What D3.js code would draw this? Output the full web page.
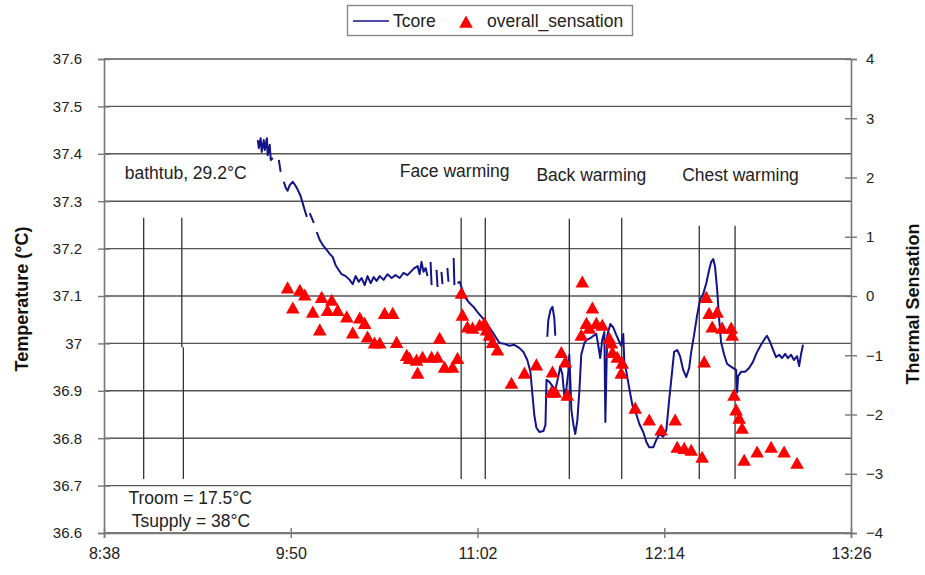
<!DOCTYPE html>
<html><head><meta charset="utf-8">
<script src="https://cdn.jsdelivr.net/npm/d3@7"></script>
<style>
html,body{margin:0;padding:0;background:#fff;}
svg{display:block;font-family:"Liberation Sans",Arial,sans-serif;}
</style></head>
<body><svg id="chart" width="925" height="575"></svg>
<script>
// ---- data ----
const timeTicks = [518, 590, 662, 734, 806];              // minutes after midnight
const timeTickLabels = ["8:38", "9:50", "11:02", "12:14", "13:26"];
const tempTicks = [36.6, 36.7, 36.8, 36.9, 37.0, 37.1, 37.2, 37.3, 37.4, 37.5, 37.6];
const tempTickLabels = ["36.6", "36.7", "36.8", "36.9", "37", "37.1", "37.2", "37.3", "37.4", "37.5", "37.6"];
const sensTicks = [-4, -3, -2, -1, 0, 1, 2, 3, 4];
const seriesNames = ["Tcore", "overall_sensation"];

// Tcore: [time (min), temperature], null = gap in the record
const tcore = [
[577.3,37.429],[577.7,37.412],[578.4,37.433],[578.8,37.404],[579.6,37.429],[580.0,37.408],[580.8,37.433],[581.1,37.397],[581.9,37.419],[582.3,37.387],[583.1,37.391],null,
[585.4,37.387],[586.1,37.362],null,
[587.3,37.341],[588.1,37.328],[588.8,37.322],[589.6,37.334],[590.8,37.341],[591.9,37.332],[592.7,37.324],[593.8,37.311],[594.6,37.296],[595.4,37.281],[596.2,37.267],null,
[597.3,37.275],[598.1,37.265],[598.9,37.254],null,
[600.0,37.235],[601.2,37.218],[602.3,37.208],[603.9,37.197],[605.0,37.189],[606.2,37.182],[607.3,37.165],[608.5,37.155],[609.6,37.146],[611.2,37.142],[612.7,37.134],[613.9,37.125],[615.0,37.142],[616.2,37.130],[617.3,37.138],[618.5,37.123],[619.6,37.142],[620.8,37.127],[622.0,37.140],[623.1,37.132],[624.3,37.142],[625.8,37.134],[627.3,37.146],[628.9,37.138],[630.4,37.144],[632.0,37.138],[633.5,37.149],[635.0,37.144],[636.6,37.153],[637.7,37.159],[638.9,37.163],[639.7,37.146],[640.4,37.172],[641.2,37.151],[642.0,37.159],[642.7,37.142],null,
[643.9,37.172],[644.3,37.123],null,
[646.2,37.155],[646.6,37.119],null,
[648.1,37.151],[648.5,37.125],null,
[650.4,37.159],[650.8,37.130],null,
[652.8,37.180],[653.1,37.123],null,
[654.3,37.127],[655.1,37.130],[656.2,37.113],[657.4,37.096],[658.9,37.085],[660.5,37.077],[662.0,37.066],[663.9,37.054],[665.8,37.039],[667.8,37.024],[669.3,37.011],[670.5,37.001],[672.4,36.999],[674.3,36.995],[676.2,36.997],[678.2,36.990],[679.7,36.982],[681.2,36.965],[682.4,36.940],[683.2,36.891],[683.9,36.849],[684.7,36.822],[685.9,36.813],[687.4,36.815],[688.2,36.828],[688.6,36.923],[689.7,36.919],[690.9,36.910],[692.0,36.902],[693.2,36.931],[693.9,36.952],[694.7,36.935],[695.5,36.889],[696.3,36.906],[697.0,36.940],[697.4,36.976],[697.8,36.919],[698.2,36.859],[699.0,36.828],[699.7,36.809],[700.5,36.838],[701.3,36.902],[702.0,36.976],[703.2,37.001],[704.3,37.008],[705.5,37.011],[706.7,37.016],[707.8,37.020],[708.6,36.995],[709.3,36.969],[710.1,37.008],[710.9,37.024],[711.3,36.834],[712.0,37.016],[713.2,37.041],[714.4,37.033],[715.5,37.018],[716.7,37.003],[717.4,36.995],[718.2,37.020],[718.6,36.961],[719.4,36.940],[720.5,36.906],[721.7,36.870],[723.2,36.851],[724.4,36.830],[725.9,36.813],[727.1,36.792],[728.2,36.781],[729.8,36.781],[730.9,36.796],[732.1,36.809],[733.6,36.803],[734.8,36.817],[735.9,36.881],[737.1,36.944],[737.8,36.982],[739.0,36.986],[740.1,36.973],[741.3,36.944],[742.5,36.929],[743.6,36.948],[744.4,36.982],[745.5,37.018],[746.7,37.060],[747.8,37.092],[749.0,37.104],[750.2,37.127],[751.3,37.155],[752.1,37.172],[752.9,37.178],[753.6,37.161],[754.4,37.113],[755.2,37.049],[755.9,37.003],[757.1,36.976],[758.2,36.957],[759.4,36.952],[760.6,36.948],[761.7,36.944],[762.1,36.897],[762.5,36.931],[763.6,36.940],[765.2,36.940],[766.7,36.948],[768.2,36.961],[769.8,36.982],[771.3,36.997],[772.9,37.011],[773.6,37.016],[774.8,37.003],[776.0,36.986],[777.1,36.971],[778.3,36.976],[779.4,36.969],[780.6,36.978],[781.7,36.969],[782.9,36.976],[784.0,36.965],[785.2,36.973],[786.0,36.952],[786.7,36.976],[787.5,36.997],null,
[688.9,37.014],[689.3,37.049],[690.1,37.070],[690.9,37.077],[691.6,37.054],[692.0,37.016]
];

// overall_sensation: [time (min), thermal sensation]
const sensation = [
[588.8,0.14],[593.5,0.10],[595.4,0.02],[590.8,-0.20],[601.9,-0.02],[605.8,-0.07],[598.5,-0.27],[604.2,-0.24],[608.1,-0.24],[611.6,-0.35],
[601.2,-0.57],[613.9,-0.62],[616.6,-0.37],[618.5,-0.46],[619.6,-0.69],[622.3,-0.79],[624.3,-0.79],[626.2,-0.29],[629.3,-0.29],[630.8,-0.78],
[634.7,-1.00],[635.8,-1.05],[638.5,-1.08],[638.9,-1.30],[640.8,-1.03],[644.3,-1.03],[647.4,-0.71],[646.6,-1.03],[649.3,-1.20],[652.4,-1.20],
[654.3,-1.05],[655.8,0.05],[656.2,-0.32],[658.1,-0.52],[660.1,-0.54],[662.8,-0.49],[664.7,-0.46],[665.5,-0.57],[666.6,-0.66],[667.8,-0.78],
[669.7,-0.91],[675.1,-1.47],[680.1,-1.30],[684.7,-1.16],[690.9,-1.28],[690.5,-1.62],[692.0,-1.62],[694.3,-0.95],[695.9,-1.11],[696.6,-1.67],
[702.4,0.24],[706.3,-0.20],[704.0,-0.46],[702.0,-0.66],[705.1,-0.54],[707.8,-0.46],[710.1,-0.49],[712.8,-0.71],[714.0,-0.95],[715.9,-1.03],
[717.8,-1.13],[717.4,-1.30],[713.6,-0.79],[722.8,-1.89],[728.2,-2.09],[732.8,-2.26],[738.2,-2.09],[739.0,-2.55],[741.7,-2.57],[744.4,-2.60],
[748.6,-2.72],[749.4,-1.11],[750.2,-0.02],[751.3,-0.29],[754.4,-0.27],[752.5,-0.52],[756.3,-0.54],[759.8,-0.54],[760.2,-0.66],[760.9,-1.67],
[761.7,-1.92],[762.9,-2.06],[764.0,-2.23],[764.8,-2.77],[769.8,-2.63],[775.2,-2.55],[780.2,-2.63],[785.2,-2.82]
];

// event markers: [time, lower temp, upper temp]
const markers = [
[533.3,36.714,37.265],[548.0,36.992,37.265],[548.6,36.714,36.992],
[655.7,36.714,37.265],[665.0,36.714,37.265],
[697.4,36.714,37.263],[717.6,36.714,37.265],
[747.5,36.714,37.248],[761.3,36.714,37.248]
];

// annotations: [text, time, temperature (baseline)]
const notes = [
["bathtub, 29.2°C", 526.0, 37.346],
["Face warming", 632.0, 37.352],
["Back warming", 684.7, 37.342],
["Chest warming", 740.9, 37.342],
["Troom = 17.5°C", 527.4, 36.661],
["Tsupply = 38°C", 528.7, 36.613]
];

// ---- drawing ----
const svg = d3.select("#chart");
const L = 104, R = 851, T = 59, B = 533;
const x = d3.scaleLinear().domain([518, 806]).range([L, R]);
const yL = d3.scaleLinear().domain([36.6, 37.6]).range([B, T]);
const yR = d3.scaleLinear().domain([-4, 4]).range([B, T]);
const lineColor = "#14148a", triColor = "#ff0000", textColor = "#222";

// gridlines
svg.append("g").selectAll("line").data(tempTicks).join("line")
  .attr("x1", L).attr("x2", R)
  .attr("y1", d => yL(d)).attr("y2", d => yL(d))
  .attr("stroke", "#555").attr("stroke-width", 1.4);

// event markers
svg.append("g").selectAll("line").data(markers).join("line")
  .attr("x1", d => x(d[0])).attr("x2", d => x(d[0]))
  .attr("y1", d => yL(d[2])).attr("y2", d => yL(d[1]))
  .attr("stroke", "#333").attr("stroke-width", 1.3);

// Tcore line
const line = d3.line().defined(d => d !== null).x(d => x(d[0])).y(d => yL(d[1]));
svg.append("path").datum(tcore).attr("d", line)
  .attr("fill", "none").attr("stroke", lineColor).attr("stroke-width", 2)
  .attr("stroke-linejoin", "round");

// sensation triangles
const tri = "M0,-6.4L6.8,5.7L-6.8,5.7Z";
svg.append("g").selectAll("path").data(sensation).join("path")
  .attr("d", tri)
  .attr("transform", d => `translate(${x(d[0])},${yR(d[1])})`)
  .attr("fill", triColor);

// annotations
svg.append("g").selectAll("text").data(notes).join("text")
  .attr("x", d => x(d[1])).attr("y", d => yL(d[2]))
  .attr("font-size", 17.5).attr("fill", textColor)
  .text(d => d[0]);

// axes
function styleAxis(g) {
  g.select(".domain").attr("stroke", "#777").attr("stroke-width", 1.6);
  g.selectAll(".tick line").attr("stroke", "#777").attr("stroke-width", 1.4);
  g.selectAll(".tick text").attr("fill", textColor);
}
const axL = svg.append("g").attr("transform", `translate(${L},0)`)
  .call(d3.axisLeft(yL).tickValues(tempTicks).tickFormat((d, i) => tempTickLabels[i]).tickSizeOuter(0).tickSize(6).tickPadding(16));
axL.selectAll(".tick line").attr("x1", 6);
axL.selectAll(".tick text").attr("font-size", 15).attr("font-family", "Liberation Sans, Arial, sans-serif");
styleAxis(axL);

const axR = svg.append("g").attr("transform", `translate(${R},0)`)
  .call(d3.axisRight(yR).tickValues(sensTicks).tickSizeOuter(0).tickSize(6).tickPadding(9));
axR.selectAll(".tick line").attr("x1", -6);
axR.selectAll(".tick text").attr("font-size", 15).attr("font-family", "Liberation Sans, Arial, sans-serif");
styleAxis(axR);

const axB = svg.append("g").attr("transform", `translate(0,${B})`)
  .call(d3.axisBottom(x).tickValues(timeTicks).tickFormat((d, i) => timeTickLabels[i]).tickSizeOuter(0).tickSize(5).tickPadding(10));
axB.selectAll(".tick line").attr("y1", -5);
axB.selectAll(".tick text").attr("font-size", 16).attr("font-family", "Liberation Sans, Arial, sans-serif");
styleAxis(axB);

// axis titles
svg.append("text").attr("transform", `translate(28,${(T + B) / 2 + 3}) rotate(-90)`)
  .attr("text-anchor", "middle").attr("font-size", 18).attr("font-weight", "bold").attr("fill", "#111")
  .text("Temperature (°C)");
svg.append("text").attr("transform", `translate(919,${(T + B) / 2 + 8}) rotate(-90)`)
  .attr("text-anchor", "middle").attr("font-size", 18).attr("font-weight", "bold").attr("fill", "#111")
  .text("Thermal Sensation");

// legend
const lg = svg.append("g");
lg.append("rect").attr("x", 347.5).attr("y", 5.5).attr("width", 285).attr("height", 30)
  .attr("fill", "#fff").attr("stroke", "#888").attr("stroke-width", 1.4);
lg.append("line").attr("x1", 353).attr("x2", 389).attr("y1", 21).attr("y2", 21)
  .attr("stroke", lineColor).attr("stroke-width", 2).attr("opacity", 0.75);
lg.append("text").attr("x", 393).attr("y", 27).attr("font-size", 17.5).attr("fill", textColor).text(seriesNames[0]);
lg.append("path").attr("d", tri).attr("transform", "translate(466,22)").attr("fill", triColor);
lg.append("text").attr("x", 487).attr("y", 27).attr("font-size", 17.5).attr("fill", textColor).text(seriesNames[1]);
</script>
</body></html>
